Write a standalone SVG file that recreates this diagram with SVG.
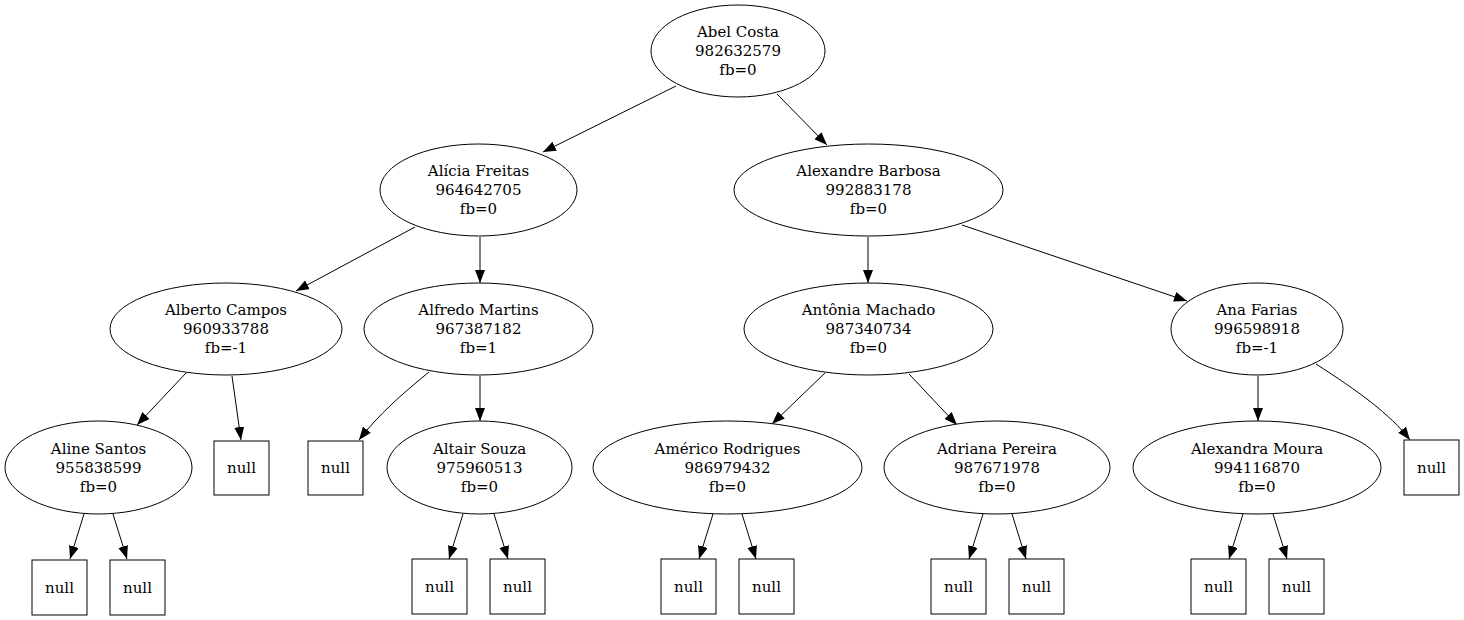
<svg xmlns="http://www.w3.org/2000/svg" width="1464" height="620" viewBox="0 0 1464 620">
<defs>
<style>
.n ellipse,.n rect{fill:#fff;stroke:#000;stroke-width:1}
.n text{font-family:"DejaVu Serif","Liberation Serif",serif;font-size:15px;fill:#000;text-anchor:middle}
.e path{fill:none;stroke:#000;stroke-width:1;marker-end:url(#ah)}
</style>
<marker id="ah" markerUnits="userSpaceOnUse" markerWidth="13" markerHeight="10" refX="13" refY="5" orient="auto"><path d="M0,0 L13,5 L0,10 z" fill="#000"/></marker>
</defs>
<rect width="1464" height="620" fill="#fff"/>
<g id="edges" class="e">
<path d="M676,86 L543,152"/>
<path d="M777,94 L827,145"/>
<path d="M415,227 L296,291"/>
<path d="M480,237 L480,283"/>
<path d="M868,237 L868,283"/>
<path d="M962,225 L1187,301"/>
<path d="M186,373 L137,425"/>
<path d="M232,376 L241,440"/>
<path d="M429,372 C402,394 378,415 359,440"/>
<path d="M480,376 L480,421"/>
<path d="M825,373 L772,424"/>
<path d="M909,374 L957,425"/>
<path d="M1258,376 L1258,421"/>
<path d="M1316,364 C1358,391 1390,414 1410,440"/>
<path d="M84,514 L70,559"/>
<path d="M113,514 L127,559"/>
<path d="M463,514 L449,559"/>
<path d="M494,514 L508,559"/>
<path d="M713,514 L699,559"/>
<path d="M742,514 L756,559"/>
<path d="M983,514 L969,559"/>
<path d="M1012,514 L1026,559"/>
<path d="M1243,514 L1229,559"/>
<path d="M1273,514 L1287,559"/>
</g>
<g id="n0" class="n"><ellipse cx="738" cy="51" rx="87" ry="46"/><text x="738" y="37">Abel Costa</text><text x="738" y="56">982632579</text><text x="738" y="75">fb=0</text></g>
<g id="n1" class="n"><ellipse cx="478.5" cy="190" rx="98.5" ry="46"/><text x="478.5" y="176">Alícia Freitas</text><text x="478.5" y="195">964642705</text><text x="478.5" y="214">fb=0</text></g>
<g id="n2" class="n"><ellipse cx="868.5" cy="190" rx="134.5" ry="46"/><text x="868.5" y="176">Alexandre Barbosa</text><text x="868.5" y="195">992883178</text><text x="868.5" y="214">fb=0</text></g>
<g id="n3" class="n"><ellipse cx="226" cy="329" rx="116" ry="46"/><text x="226" y="315">Alberto Campos</text><text x="226" y="334">960933788</text><text x="226" y="353">fb=-1</text></g>
<g id="n4" class="n"><ellipse cx="478.5" cy="329" rx="114.5" ry="46"/><text x="478.5" y="315">Alfredo Martins</text><text x="478.5" y="334">967387182</text><text x="478.5" y="353">fb=1</text></g>
<g id="n5" class="n"><ellipse cx="868.5" cy="329" rx="124.5" ry="46"/><text x="868.5" y="315">Antônia Machado</text><text x="868.5" y="334">987340734</text><text x="868.5" y="353">fb=0</text></g>
<g id="n6" class="n"><ellipse cx="1257" cy="329" rx="86" ry="46"/><text x="1257" y="315">Ana Farias</text><text x="1257" y="334">996598918</text><text x="1257" y="353">fb=-1</text></g>
<g id="n7" class="n"><ellipse cx="98.5" cy="467.5" rx="93.5" ry="46.5"/><text x="98.5" y="453.5">Aline Santos</text><text x="98.5" y="472.5">955838599</text><text x="98.5" y="491.5">fb=0</text></g>
<g id="null1" class="n"><rect x="214" y="441" width="55" height="54"/><text x="241.5" y="473">null</text></g>
<g id="null2" class="n"><rect x="308" y="441" width="55" height="54"/><text x="335.5" y="473">null</text></g>
<g id="n8" class="n"><ellipse cx="479.5" cy="467.5" rx="92.5" ry="46.5"/><text x="479.5" y="453.5">Altair Souza</text><text x="479.5" y="472.5">975960513</text><text x="479.5" y="491.5">fb=0</text></g>
<g id="n9" class="n"><ellipse cx="727.5" cy="467.5" rx="134.5" ry="46.5"/><text x="727.5" y="453.5">Américo Rodrigues</text><text x="727.5" y="472.5">986979432</text><text x="727.5" y="491.5">fb=0</text></g>
<g id="n10" class="n"><ellipse cx="997" cy="467.5" rx="113" ry="46.5"/><text x="997" y="453.5">Adriana Pereira</text><text x="997" y="472.5">987671978</text><text x="997" y="491.5">fb=0</text></g>
<g id="n11" class="n"><ellipse cx="1257" cy="467.5" rx="124" ry="46.5"/><text x="1257" y="453.5">Alexandra Moura</text><text x="1257" y="472.5">994116870</text><text x="1257" y="491.5">fb=0</text></g>
<g id="null3" class="n"><rect x="1404" y="440" width="55" height="55"/><text x="1431.5" y="473">null</text></g>
<g id="null4" class="n"><rect x="32" y="560" width="55" height="55"/><text x="59.5" y="593">null</text></g>
<g id="null5" class="n"><rect x="110" y="560" width="55" height="55"/><text x="137.5" y="593">null</text></g>
<g id="null6" class="n"><rect x="412" y="559" width="55" height="55"/><text x="439.5" y="592">null</text></g>
<g id="null7" class="n"><rect x="490" y="559" width="55" height="55"/><text x="517.5" y="592">null</text></g>
<g id="null8" class="n"><rect x="661" y="559" width="55" height="55"/><text x="688.5" y="592">null</text></g>
<g id="null9" class="n"><rect x="739" y="559" width="55" height="55"/><text x="766.5" y="592">null</text></g>
<g id="null10" class="n"><rect x="931" y="559" width="55" height="55"/><text x="958.5" y="592">null</text></g>
<g id="null11" class="n"><rect x="1009" y="559" width="55" height="55"/><text x="1036.5" y="592">null</text></g>
<g id="null12" class="n"><rect x="1191" y="559" width="55" height="55"/><text x="1218.5" y="592">null</text></g>
<g id="null13" class="n"><rect x="1269" y="559" width="55" height="55"/><text x="1296.5" y="592">null</text></g>
</svg>
